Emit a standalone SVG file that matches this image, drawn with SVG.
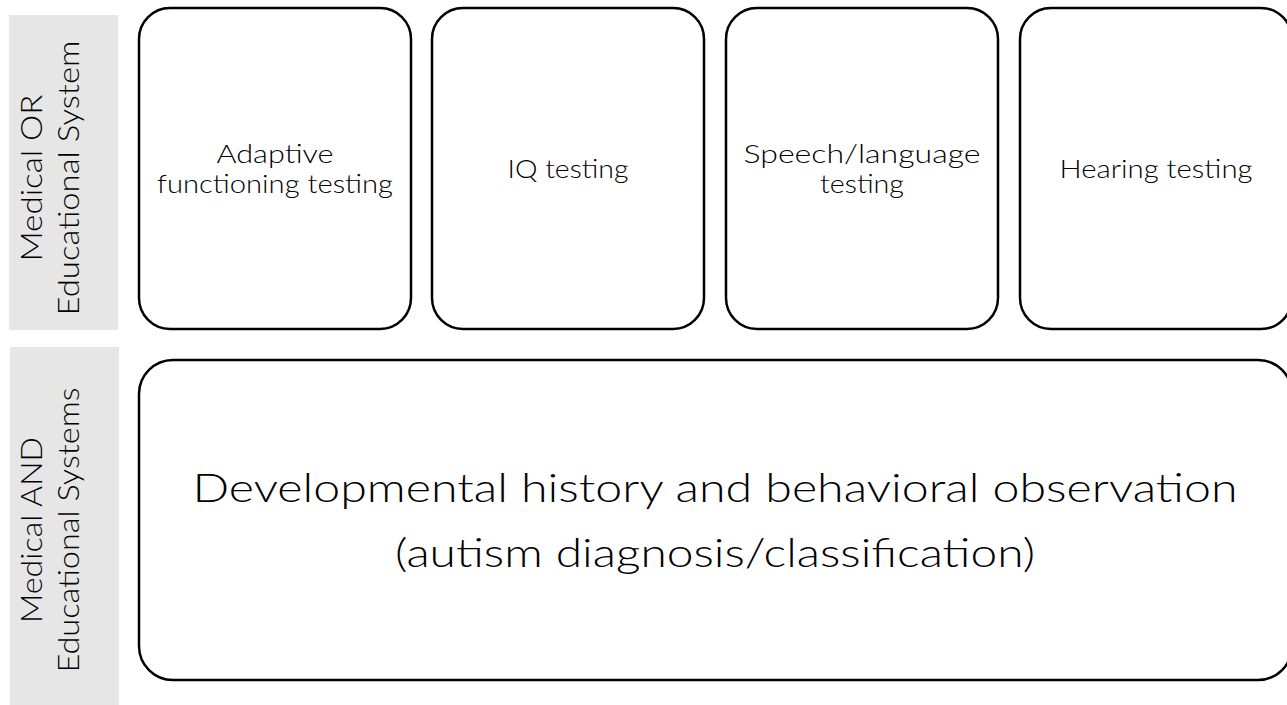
<svg xmlns="http://www.w3.org/2000/svg" width="1287" height="705" viewBox="0 0 1287 705">
<style>
.band{fill:#e7e6e6;stroke:none}
.box{fill:#ffffff;stroke:#000000;stroke-width:2.5}
.t{font-family:Lato,"Liberation Sans",Arial,sans-serif;font-weight:300;fill:#000000;text-anchor:middle}
.s{font-size:26px}
.r{font-size:29px}
.b{font-size:40px}
</style>
<rect width="1287" height="705" fill="#ffffff"/>
<g id="band-or">
<rect class="band" x="9" y="15" width="109" height="315"/>
<text class="t r" transform="translate(42,178) rotate(-90)" textLength="167" lengthAdjust="spacingAndGlyphs">Medical OR</text>
<text class="t r" transform="translate(79,178) rotate(-90)" textLength="275" lengthAdjust="spacingAndGlyphs">Educational System</text>
</g>
<g id="band-and">
<rect class="band" x="10" y="347" width="109" height="358"/>
<text class="t r" transform="translate(42,530) rotate(-90)" textLength="186" lengthAdjust="spacingAndGlyphs">Medical AND</text>
<text class="t r" transform="translate(79,530) rotate(-90)" textLength="285" lengthAdjust="spacingAndGlyphs">Educational Systems</text>
</g>
<g id="adaptive">
<rect class="box" x="139" y="8" width="272" height="321" rx="31" ry="31"/>
<text class="t s" x="275" y="163" textLength="117" lengthAdjust="spacingAndGlyphs">Adaptive</text>
<text class="t s" x="275" y="193" textLength="236" lengthAdjust="spacingAndGlyphs">functioning testing</text>
</g>
<g id="iq">
<rect class="box" x="432" y="8" width="272" height="321" rx="31" ry="31"/>
<text class="t s" x="568" y="178" textLength="121" lengthAdjust="spacingAndGlyphs">IQ testing</text>
</g>
<g id="speech">
<rect class="box" x="726" y="8" width="272" height="321" rx="31" ry="31"/>
<text class="t s" x="862" y="163" textLength="237" lengthAdjust="spacingAndGlyphs">Speech/language</text>
<text class="t s" x="862" y="193" textLength="84" lengthAdjust="spacingAndGlyphs">testing</text>
</g>
<g id="hearing">
<rect class="box" x="1020" y="8" width="272" height="321" rx="31" ry="31"/>
<text class="t s" x="1156" y="178" textLength="193" lengthAdjust="spacingAndGlyphs">Hearing testing</text>
</g>
<g id="developmental">
<rect class="box" x="139" y="360" width="1153" height="320" rx="34" ry="34"/>
<text class="t b" x="715" y="502" textLength="1045" lengthAdjust="spacingAndGlyphs">Developmental history and behavioral observation</text>
<text class="t b" x="715" y="567" textLength="640" lengthAdjust="spacingAndGlyphs">(autism diagnosis/classification)</text>
</g>
<g id="connectors"></g>
</svg>
